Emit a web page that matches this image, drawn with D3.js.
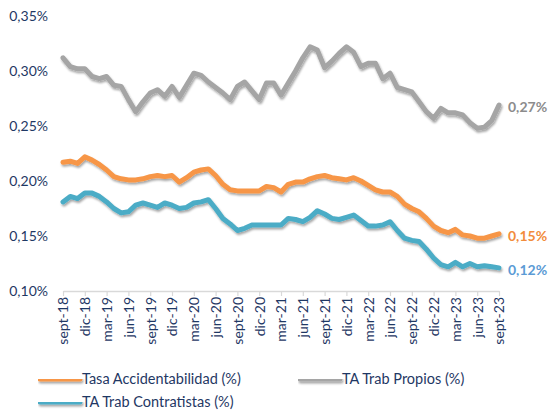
<!DOCTYPE html>
<html lang="es">
<head>
<meta charset="UTF-8">
<title>Tasa de accidentabilidad</title>
<style>
  body { margin: 0; padding: 0; background: #fff; }
  #chart { width: 548px; height: 410px; }
  text { font-family: Lato, "Open Sans", sans-serif; }
</style>
</head>
<body>
<div id="chart"></div>
<script src="https://cdn.jsdelivr.net/npm/d3@7"></script>
<script>
// months sept-18 .. sept-23
const monthNames = ["ene", "feb", "mar", "abr", "may", "jun", "jul", "ago", "sept", "oct", "nov", "dic"];
const months = [];
for (let i = 0; i < 61; i++) {
  const m = (8 + i) % 12;
  const y = 18 + Math.floor((8 + i) / 12);
  months.push(monthNames[m] + "-" + y);
}

const tasaAccidentabilidad = [
  0.217, 0.218, 0.216, 0.222, 0.219, 0.215, 0.210, 0.204, 0.202, 0.201,
  0.201, 0.202, 0.204, 0.205, 0.204, 0.205, 0.199, 0.203, 0.208, 0.210,
  0.211, 0.205, 0.197, 0.192, 0.191, 0.191, 0.191, 0.191, 0.195, 0.194,
  0.190, 0.197, 0.199, 0.199, 0.202, 0.204, 0.205, 0.203, 0.202, 0.201,
  0.203, 0.200, 0.196, 0.192, 0.190, 0.190, 0.186, 0.179, 0.175, 0.172,
  0.166, 0.159, 0.155, 0.153, 0.156, 0.151, 0.150, 0.148, 0.148, 0.150,
  0.152
];
const trabPropios = [
  0.312, 0.304, 0.302, 0.302, 0.295, 0.293, 0.295, 0.287, 0.286, 0.274,
  0.263, 0.272, 0.280, 0.283, 0.277, 0.286, 0.276, 0.287, 0.298, 0.296,
  0.290, 0.285, 0.280, 0.274, 0.286, 0.290, 0.282, 0.274, 0.289, 0.289,
  0.278, 0.289, 0.300, 0.312, 0.322, 0.319, 0.303, 0.309, 0.316, 0.322,
  0.317, 0.304, 0.307, 0.307, 0.293, 0.298, 0.285, 0.283, 0.281, 0.272,
  0.263, 0.257, 0.266, 0.262, 0.262, 0.260, 0.253, 0.248, 0.249, 0.255,
  0.269
];
const trabContratistas = [
  0.181, 0.186, 0.184, 0.189, 0.189, 0.186, 0.181, 0.175, 0.171, 0.172,
  0.178, 0.180, 0.178, 0.176, 0.180, 0.178, 0.175, 0.176, 0.180, 0.181,
  0.183, 0.175, 0.166, 0.161, 0.155, 0.157, 0.160, 0.160, 0.160, 0.160,
  0.160, 0.166, 0.165, 0.163, 0.167, 0.173, 0.170, 0.166, 0.165, 0.167,
  0.169, 0.164, 0.159, 0.159, 0.160, 0.163, 0.155, 0.148, 0.146, 0.145,
  0.138, 0.130, 0.124, 0.122, 0.126, 0.122, 0.125, 0.122, 0.123, 0.122,
  0.121
];
const yTicks = [0.10, 0.15, 0.20, 0.25, 0.30, 0.35];

const series = [
  { name: "Tasa Accidentabilidad (%)", values: tasaAccidentabilidad, color: "#F79646", label: "#F28C3C" },
  { name: "TA Trab Propios (%)", values: trabPropios, color: "#A5A5A5", label: "#8C8C8C" },
  { name: "TA Trab Contratistas (%)", values: trabContratistas, color: "#4BACC6", label: "#5B9BD5" }
];

const w = 548, h = 410;
const x = d3.scalePoint().domain(months).range([63, 499]);
const y = d3.scaleLinear().domain([0.10, 0.35]).range([291, 16]);
const fmt = v => v.toFixed(2).replace(".", ",") + "%";

const svg = d3.select("#chart").append("svg")
  .attr("width", w).attr("height", h);

const defs = svg.append("defs");
defs.append("filter").attr("id", "shadow")
  .attr("filterUnits", "userSpaceOnUse")
  .attr("x", 0).attr("y", 0).attr("width", w).attr("height", h)
  .append("feDropShadow")
  .attr("dx", 1).attr("dy", 2).attr("stdDeviation", 1.3)
  .attr("flood-color", "#000").attr("flood-opacity", 0.35);

// y axis labels
svg.append("g")
  .selectAll("text")
  .data(yTicks)
  .enter()
  .append("text")
  .attr("x", 48)
  .attr("y", d => y(d))
  .attr("dy", "0.35em")
  .attr("text-anchor", "end")
  .attr("font-size", 14)
  .attr("fill", "#1F3864")
  .text(fmt);

// x axis
const tickMonths = months.filter((d, i) => i % 3 === 0);
const xAxis = svg.append("g")
  .attr("transform", "translate(0,291)")
  .call(d3.axisBottom(x).tickValues(tickMonths).tickSize(5).tickSizeOuter(0).tickPadding(4));
xAxis.select(".domain").attr("stroke", "#D9D9D9").attr("stroke-width", 1.5);
xAxis.selectAll(".tick line").attr("stroke", "#D9D9D9").attr("stroke-width", 1.2);
xAxis.selectAll(".tick text")
  .attr("transform", "rotate(-90)")
  .attr("text-anchor", "end")
  .attr("x", -6)
  .attr("y", 0)
  .attr("dy", "0.35em")
  .attr("font-size", 14)
  .attr("font-family", "Lato, sans-serif")
  .attr("fill", "#1F3864");

// lines
const line = d3.line()
  .x((d, i) => x(months[i]))
  .y(d => y(d));

svg.append("g")
  .selectAll("path")
  .data(series)
  .enter()
  .append("path")
  .attr("d", d => line(d.values))
  .attr("fill", "none")
  .attr("stroke", d => d.color)
  .attr("stroke-width", 5)
  .attr("stroke-linejoin", "round")
  .attr("stroke-linecap", "round")
  .attr("filter", "url(#shadow)");

// end labels
svg.append("g")
  .selectAll("text")
  .data(series)
  .enter()
  .append("text")
  .attr("x", 508)
  .attr("y", d => y(d.values[d.values.length - 1]) + 2)
  .attr("dy", "0.35em")
  .attr("font-size", 14)
  .attr("font-weight", "bold")
  .attr("fill", d => d.label)
  .text(d => fmt(d.values[d.values.length - 1]));

// legend
const legendPos = [[38, 379], [298, 379], [38, 402]];
const legend = svg.append("g")
  .selectAll("g")
  .data(series)
  .enter()
  .append("g")
  .attr("transform", (d, i) => `translate(${legendPos[i][0]},${legendPos[i][1]})`);

legend.append("line")
  .attr("x1", 2).attr("x2", 42)
  .attr("y1", 0).attr("y2", 0)
  .attr("stroke", d => d.color)
  .attr("stroke-width", 5)
  .attr("stroke-linecap", "round")
  .attr("filter", "url(#shadow)");

legend.append("text")
  .attr("x", 44)
  .attr("y", 0)
  .attr("dy", "0.35em")
  .attr("font-size", 14.5)
  .attr("fill", "#1F3864")
  .text(d => d.name);
</script>
</body>
</html>
